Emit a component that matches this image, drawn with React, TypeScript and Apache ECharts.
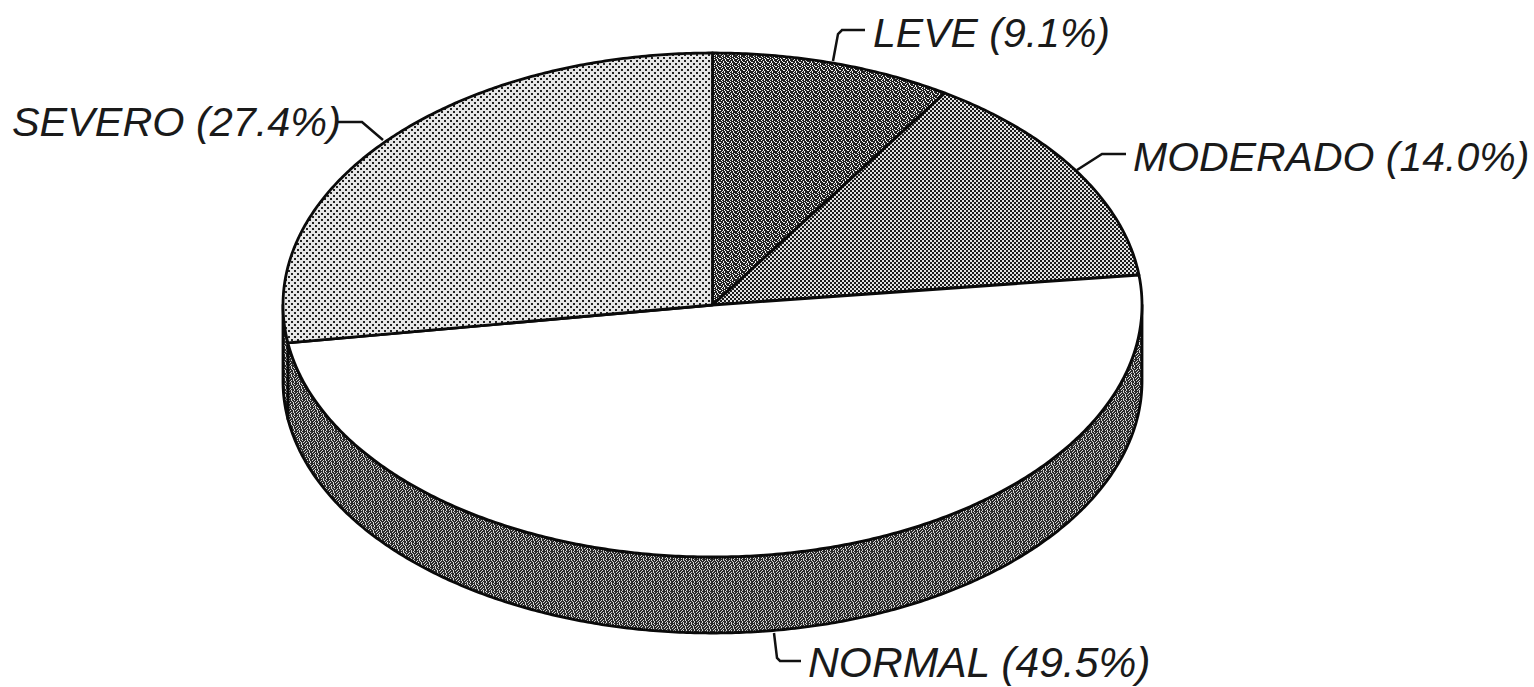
import React, { useEffect, useRef } from "react";
import * as echarts from "echarts";

const categories = ["LEVE", "MODERADO", "NORMAL", "SEVERO"];
const values = [9.1, 14.0, 49.5, 27.4];
const labelPositions: number[][] = [[873, 33], [1133, 157], [808, 662], [12, 122]];
const labelSizes = [41, 41, 42.6, 41.4];
const leaders: number[][][] = [
  [[833, 61], [838, 34], [842, 30], [865, 30]],
  [[1077, 170], [1102, 154], [1126, 154]],
  [[774, 633], [777, 658], [780, 661], [801, 661]],
  [[338, 122], [362, 122], [383, 140]],
];

const CX = 712.5, CY = 305, RX = 429.5, RY = 252, DEPTH = 76;

const patLeve = ["#.##.###", "##.###.#", ".###.##.", "##.##.##", "#.###.##", "###.##.#", ".##.###.", "##.#.###"];
const patMod = ["##..##..", "##..##..", "..##..##", "..##..##", "##..##..", "##..##..", "..##..##", "..##..##"];
const patSev = ["##....", "##....", "......", "...##.", "...##.", "......"];
const patSide = ["#.#.##.#", ".###.###", "##.##.#.", "#.###.##", ".##.#.##", "##.###.#", "#.#.##.#", "###.#.##"];

function pattern(rows: string[], dark: string, light: string) {
  const c = document.createElement("canvas");
  c.width = rows[0].length; c.height = rows.length;
  const g = c.getContext("2d")!;
  rows.forEach((r, y) => r.split("").forEach((ch, x) => {
    g.fillStyle = ch === "#" ? dark : light;
    g.fillRect(x, y, 1, 1);
  }));
  return { image: c, repeat: "repeat", imageWidth: c.width, imageHeight: c.height };
}

function pt(deg: number, dy = 0): number[] {
  const a = (deg * Math.PI) / 180;
  return [CX + RX * Math.sin(a), CY - RY * Math.cos(a) + dy];
}
function arc(a: number, b: number, dy = 0): number[][] {
  const out: number[][] = [];
  const n = Math.max(2, Math.ceil(Math.abs(b - a) * 2));
  for (let i = 0; i <= n; i++) out.push(pt(a + ((b - a) * i) / n, dy));
  return out;
}

export default function App() {
  const ref = useRef<HTMLDivElement>(null);
  useEffect(() => {
    const chart = echarts.init(ref.current!, null, { renderer: "svg" });
    const total = values.reduce((s, v) => s + v, 0);
    const fills: any[] = [
      pattern(patLeve, "#222222", "#f4f4f4"),
      pattern(patMod, "#1a1a1a", "#e2e2e2"),
      "#ffffff",
      pattern(patSev, "#222222", "#e6e6e6"),
    ];
    const sideFill = pattern(patSide, "#2a2a2a", "#d4d4d4");
    const renderItem = (params: any, api: any) => {
      const i = params.dataIndex;
      let before = 0;
      for (let k = 0; k < i; k++) before += values[k];
      const start = (before / total) * 360;
      const end = start + (api.value(0) / total) * 360;
      const children: any[] = [];
      const s = Math.max(start, 90), e = Math.min(end, 270);
      if (e > s) {
        children.push({
          type: "polygon",
          z2: 1,
          shape: { points: [...arc(s, e), ...arc(e, s, DEPTH)] },
          style: { fill: sideFill, stroke: "#0a0a0a", lineWidth: 2.8, lineJoin: "round" },
        });
      }
      children.push({
        type: "polygon",
        z2: 2,
        shape: { points: [[CX, CY], ...arc(start, end)] },
        style: { fill: fills[i], stroke: "#0a0a0a", lineWidth: 2.8, lineJoin: "round" },
      });
      return { type: "group", children };
    };
    chart.setOption({
      animation: false,
      backgroundColor: "#ffffff",
      graphic: [
        ...categories.map((c, i) => ({
          type: "text",
          x: labelPositions[i][0],
          y: labelPositions[i][1],
          z: 10,
          style: {
            text: `${c} (${values[i].toFixed(1)}%)`,
            fontFamily: "Liberation Sans",
            fontStyle: "italic",
            fontSize: labelSizes[i],
            fill: "#1a1a1a",
            textVerticalAlign: "middle",
            textBaseline: "middle",
          },
        })),
        ...leaders.map(points => ({
          type: "polyline",
          z: 10,
          shape: { points },
          style: { fill: "none", stroke: "#111111", lineWidth: 2.5 },
        })),
      ],
      series: [
        {
          type: "custom",
          coordinateSystem: "none",
          data: values.map(v => [v]),
          renderItem,
          silent: true,
        },
      ],
    });
    return () => chart.dispose();
  }, []);
  return <div ref={ref} style={{ position: "absolute", left: 0, top: 0, width: 1534, height: 687 }} />;
}
